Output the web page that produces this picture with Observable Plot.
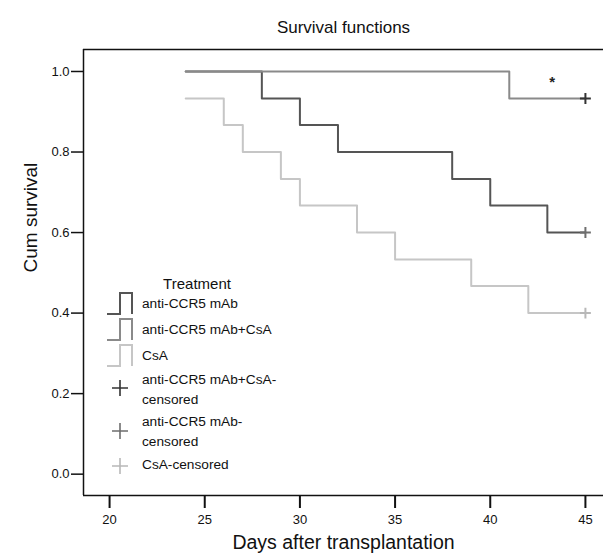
<!DOCTYPE html>
<html>
<head>
<meta charset="utf-8">
<script src="https://cdn.jsdelivr.net/npm/d3@7"></script>
<script src="https://cdn.jsdelivr.net/npm/@observablehq/plot@0.6"></script>
<style>
  html, body { margin: 0; padding: 0; background: #fff; }
  #chart { position: relative; width: 603px; height: 557px; }
</style>
</head>
<body>
<div id="chart"></div>
<script>
// ---- data ----
const groups = ["anti-CCR5 mAb", "anti-CCR5 mAb+CsA", "CsA"];
const lineColors = ["#555555", "#8a8a8a", "#c6c6c6"];

const mAbDays = [24, 28, 30, 32, 38, 40, 43, 45];
const mAbSurv = [1.0, 0.933, 0.867, 0.8, 0.733, 0.667, 0.6, 0.6];

const comboDays = [24, 41, 45];
const comboSurv = [1.0, 0.933, 0.933];

const csaDays = [24, 26, 27, 29, 30, 33, 35, 39, 42, 45];
const csaSurv = [0.933, 0.867, 0.8, 0.733, 0.667, 0.6, 0.533, 0.467, 0.4, 0.4];

const censorGroups = ["anti-CCR5 mAb+CsA-censored", "anti-CCR5 mAb-censored", "CsA-censored"];
const censorColors = ["#333333", "#6e6e6e", "#b8b8b8"];
const censorDays = [45, 45, 45];
const censorSurv = [0.933, 0.6, 0.4];

const xTicks = [20, 25, 30, 35, 40, 45];
const yTicks = [0.0, 0.2, 0.4, 0.6, 0.8, 1.0];

const sigMark = {day: 43.25, surv: 0.98, text: "*"};

// ---- build table ----
const curves = [
  ...mAbDays.map((d, i) => ({group: groups[0], day: d, surv: mAbSurv[i]})),
  ...csaDays.map((d, i) => ({group: groups[2], day: d, surv: csaSurv[i]})),
  ...comboDays.map((d, i) => ({group: groups[1], day: d, surv: comboSurv[i]}))
];
const censored = censorGroups.map((g, i) => ({group: g, day: censorDays[i], surv: censorSurv[i], color: censorColors[i]}));

const xDom = [18.63, 45.95];
const yDom = [-0.053, 1.0546];
const font = "'Liberation Sans', Arial, sans-serif";

const plot = Plot.plot({
  width: 603,
  height: 557,
  marginLeft: 83,
  marginRight: 0,
  marginTop: 49,
  marginBottom: 62,
  style: {fontFamily: font, fontSize: "13px", background: "#fff", color: "#111"},
  x: {domain: xDom},
  y: {domain: yDom},
  color: {domain: groups, range: lineColors},
  marks: [
    Plot.ruleY([yDom[1]], {stroke: "#111", strokeWidth: 1.5}),
    Plot.ruleY([yDom[0]], {stroke: "#111", strokeWidth: 1.5}),
    Plot.ruleX([xDom[0]], {stroke: "#111", strokeWidth: 1.5}),
    Plot.axisY({ticks: yTicks, tickFormat: d3.format(".1f"), tickSize: 12, tickPadding: 2, label: null, strokeWidth: 1.5, fontSize: 13}),
    Plot.axisX({ticks: xTicks, tickSize: 13, tickPadding: 6, label: null, strokeWidth: 2, fontSize: 13}),
    Plot.line(curves, {x: "day", y: "surv", z: "group", stroke: "group", curve: "step-after", strokeWidth: 2}),
    Plot.dot(censored, {x: "day", y: "surv", symbol: "plus", r: 3.6, stroke: "color", strokeWidth: 2}),
    Plot.text([sigMark], {x: "day", y: "surv", text: "text", fontSize: 15, fontWeight: "bold", fill: "#222", dy: 3}),
    Plot.text(["Survival functions"], {frameAnchor: "top", dy: -29, fontSize: 17, fill: "#111"}),
    Plot.text(["Days after transplantation"], {frameAnchor: "bottom", dy: 53, fontSize: 19.5, fill: "#111"}),
    Plot.text(["Cum survival"], {frameAnchor: "left", dx: -53, rotate: -90, fontSize: 19, fill: "#111"})
  ]
});

document.getElementById("chart").appendChild(plot);

// ---- legend ----
const svg = d3.select(plot);
const lg = svg.append("g").attr("font-family", font).attr("fill", "#111").attr("text-anchor", "start");
lg.append("text").attr("x", 197).attr("y", 283).attr("text-anchor", "middle")
  .attr("dominant-baseline", "central").attr("font-size", 15).text("Treatment");

const lineRows = [303, 329, 355];
groups.forEach((g, i) => {
  const cy = lineRows[i];
  lg.append("path")
    .attr("d", `M107,${cy + 11}H120V${cy - 10}H132V${cy + 11}`)
    .attr("fill", "none").attr("stroke", lineColors[i]).attr("stroke-width", 2);
  lg.append("text").attr("x", 142).attr("y", cy).attr("dominant-baseline", "central")
    .attr("text-anchor", "start").attr("font-size", 13.7).text(g);
});

const censorRows = [
  {cy: 388, lines: ["anti-CCR5 mAb+CsA-", "censored"], ty: [379, 399]},
  {cy: 431, lines: ["anti-CCR5 mAb-", "censored"], ty: [421, 441]},
  {cy: 466, lines: ["CsA-censored"], ty: [464]}
];
censorRows.forEach((r, i) => {
  lg.append("path")
    .attr("d", `M112,${r.cy}H128M120,${r.cy - 8}V${r.cy + 8}`)
    .attr("stroke", censorColors[i]).attr("stroke-width", 1.6).attr("fill", "none");
  r.lines.forEach((t, j) => {
    lg.append("text").attr("x", 142).attr("y", r.ty[j]).attr("dominant-baseline", "central")
      .attr("text-anchor", "start").attr("font-size", 13.7).text(t);
  });
});
</script>
</body>
</html>
